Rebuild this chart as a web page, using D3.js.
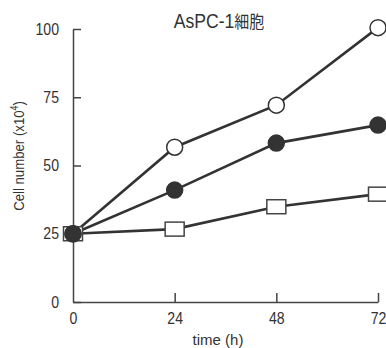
<!DOCTYPE html>
<html>
<head>
<meta charset="utf-8">
<script src="https://cdn.jsdelivr.net/npm/d3@7"></script>
<style>
  body { margin: 0; background: #fff; }
  svg { display: block; }
  text { font-family: "Liberation Sans", Arial, sans-serif; fill: #333; }
</style>
</head>
<body>
<svg id="chart"></svg>
<script>
// data
const times = [0, 24, 48, 72]
const openCircle = [25, 56.7, 72.1, 100.5]
const filledCircle = [25, 41, 58.2, 64.8]
const openSquare = [25, 26.7, 34.9, 39.5]
const yTicks = [0, 25, 50, 75, 100]
const xTicks = [0, 24, 48, 72]

const width = 386, height = 348
const margins = {left: 73, right: 8, top: 29, bottom: 46}
const squeeze = 0.88   // the scan uses a condensed face

const svg = d3.select("#chart").attr("width", width).attr("height", height)

const x = d3.scaleLinear().domain([0, 72]).range([margins.left, width - margins.right])
const y = d3.scaleLinear().domain([0, 100]).range([height - margins.bottom, margins.top])

// axes, ticks point inward
const yAxis = d3.axisLeft(y).tickValues(yTicks).tickSizeInner(-8).tickSizeOuter(0).tickPadding(14)
const xAxis = d3.axisBottom(x).tickValues(xTicks).tickSizeInner(-9).tickSizeOuter(0).tickPadding(11)

const gy = svg.append("g").attr("transform", `translate(${margins.left},0)`).call(yAxis)
const gx = svg.append("g").attr("transform", `translate(0,${height - margins.bottom})`).call(xAxis)

for (const g of [gx, gy]) {
    g.selectAll("path, line").attr("stroke", "#444").attr("stroke-width", 1.5)
    g.selectAll("text")
        .attr("font-size", 16)
        .attr("fill", "#333")
        .attr("font-family", '"Liberation Sans", Arial, sans-serif')
        .attr("transform", `scale(${squeeze},1)`)
}
gy.selectAll("text").attr("x", -14 / squeeze)
gx.selectAll(".tick").filter(d => d === 0).select("line").remove()

// axis titles
svg.append("text")
    .attr("x", 218).attr("y", 345)
    .attr("text-anchor", "middle")
    .attr("font-size", 15)
    .text("time (h)")

const yl = svg.append("text")
    .attr("transform", `translate(24,156) rotate(-90) scale(${squeeze},1)`)
    .attr("text-anchor", "middle")
    .attr("font-size", 15)
yl.append("tspan").text("Cell number (x10")
yl.append("tspan").attr("font-size", 10).attr("dy", -6).text("4")
yl.append("tspan").attr("dy", 6).text(")")

const title = svg.append("text")
    .attr("transform", `translate(219,28) scale(${squeeze},1)`)
    .attr("text-anchor", "middle")
    .attr("font-size", 20)
title.append("tspan").text("AsPC-1")
title.append("tspan").attr("font-family", '"Noto Sans CJK JP", sans-serif').attr("font-size", 17).text("細胞")

// series
const series = [
    {name: "square", values: openSquare},
    {name: "open", values: openCircle},
    {name: "filled", values: filledCircle}
]

const line = d3.line().x((d, i) => x(times[i])).y(d => y(d))

svg.append("g").selectAll("path")
    .data(series)
    .join("path")
    .attr("d", d => line(d.values))
    .attr("fill", "none")
    .attr("stroke", "#333")
    .attr("stroke-width", 2.6)

series.forEach(s => {
    const g = svg.append("g")
    if (s.name === "square") {
        g.selectAll("rect")
            .data(s.values)
            .join("rect")
            .attr("x", (d, i) => x(times[i]) - 9.5)
            .attr("y", d => y(d) - 7)
            .attr("width", 19)
            .attr("height", 14)
            .attr("fill", "#fff")
            .attr("stroke", "#444")
            .attr("stroke-width", 1.5)
    } else {
        g.selectAll("circle")
            .data(s.values)
            .join("circle")
            .attr("cx", (d, i) => x(times[i]))
            .attr("cy", d => y(d))
            .attr("r", 8)
            .attr("fill", s.name === "filled" ? "#333" : "#fff")
            .attr("stroke", "#333")
            .attr("stroke-width", 1.5)
    }
})
</script>
</body>
</html>
